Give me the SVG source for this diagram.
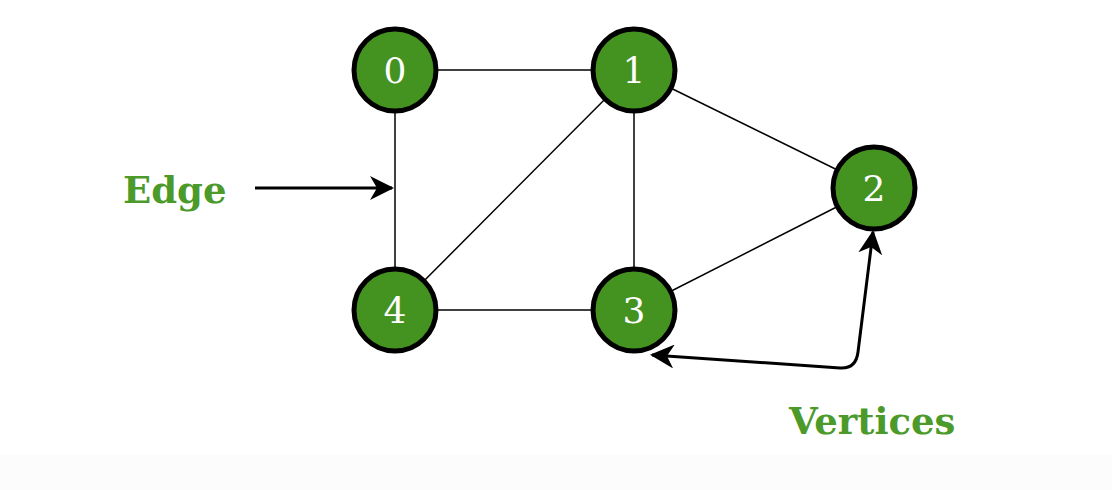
<svg xmlns="http://www.w3.org/2000/svg" width="1112" height="490" viewBox="0 0 1112 490">
<style>
.node circle{fill:#44921f;stroke:#000;stroke-width:5}
.node text{fill:#fff;font-family:"DejaVu Serif",serif;font-size:36px;text-anchor:middle}
.edge{stroke:#000;stroke-width:1.5;fill:none}
.ptr{stroke:#000;stroke-width:3;fill:none}
.lbl{fill:#4c9a2a;font-family:"DejaVu Serif",serif;font-weight:bold;font-size:37px}
</style>
<defs>
<marker id="ah2" viewBox="0 0 12 12" refX="11" refY="6" markerWidth="24" markerHeight="24" markerUnits="userSpaceOnUse" orient="auto-start-reverse">
<path d="M0,0 L12,6 L0,12 L3.5,6 Z" fill="#000"/>
</marker>
</defs>
<rect x="0" y="0" width="1112" height="490" fill="#fff"/>
<rect x="0" y="455" width="1112" height="35" fill="#fcfcfc"/>
<g id="connectors">
<line class="edge" x1="395" y1="70" x2="634" y2="70"/>
<line class="edge" x1="395" y1="70" x2="395" y2="310"/>
<line class="edge" x1="395" y1="310" x2="634" y2="310"/>
<line class="edge" x1="395" y1="310" x2="634" y2="70"/>
<line class="edge" x1="634" y1="70" x2="634" y2="310"/>
<line class="edge" x1="634" y1="70" x2="874" y2="188"/>
<line class="edge" x1="634" y1="310" x2="874" y2="188"/>
<line class="ptr" x1="255" y1="188" x2="392" y2="188" marker-end="url(#ah2)"/>
<path class="ptr" d="M652,355 L840,368 Q856,369 858,352 L873,232" marker-start="url(#ah2)" marker-end="url(#ah2)"/>
</g>
<g id="node0" class="node"><circle cx="395" cy="70" r="41"/><text x="395" y="83">0</text></g>
<g id="node1" class="node"><circle cx="634" cy="70" r="41"/><text x="634" y="83">1</text></g>
<g id="node2" class="node"><circle cx="874" cy="188" r="41"/><text x="874" y="201">2</text></g>
<g id="node3" class="node"><circle cx="634" cy="310" r="41"/><text x="634" y="323">3</text></g>
<g id="node4" class="node"><circle cx="395" cy="310" r="41"/><text x="395" y="323">4</text></g>
<text id="label-edge" class="lbl" x="123" y="203">Edge</text>
<text id="label-vertices" class="lbl" x="789" y="434">Vertices</text>
</svg>
